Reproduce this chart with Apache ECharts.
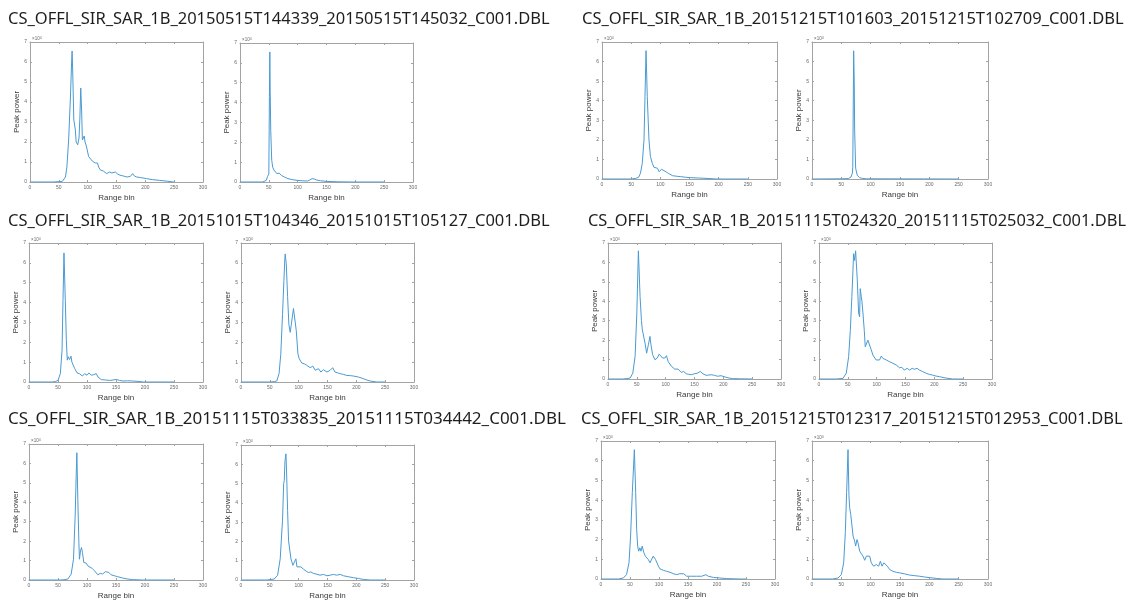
<!DOCTYPE html>
<html><head><meta charset="utf-8">
<script src="https://cdn.jsdelivr.net/npm/echarts@6/dist/echarts.min.js"></script>
<style>html,body{margin:0;padding:0;background:#fff}#c{width:1135px;height:601px}</style>
</head><body><div id="c"></div><script>
// ---- text ----
const fileTitles = [
  'CS_OFFL_SIR_SAR_1B_20150515T144339_20150515T145032_C001.DBL',
  'CS_OFFL_SIR_SAR_1B_20151215T101603_20151215T102709_C001.DBL',
  'CS_OFFL_SIR_SAR_1B_20151015T104346_20151015T105127_C001.DBL',
  'CS_OFFL_SIR_SAR_1B_20151115T024320_20151115T025032_C001.DBL',
  'CS_OFFL_SIR_SAR_1B_20151115T033835_20151115T034442_C001.DBL',
  'CS_OFFL_SIR_SAR_1B_20151215T012317_20151215T012953_C001.DBL'
];
const xAxisTitle = 'Range bin';
const yAxisTitle = 'Peak power';
const xTickValues = [0, 50, 100, 150, 200, 250, 300];
const yTickValues = [0, 1, 2, 3, 4, 5, 6, 7];   // in units of 10^4

// ---- data: [range bin, peak power (x10^4)] ----
const curveA1 = [[0,0],[40,0],[50,0.02],[56,0.03],[61.5,0.25],[64,0.76],[67,2.1],[70,4.15],[72,5.85],[73,6.55],[74,5.6],[76,3.1],[78.7,2.6],[80,2.0],[82.8,1.86],[85,2.2],[86.5,3.2],[88,4.7],[89.5,3.6],[90.8,2.1],[92,2.2],[94,2.3],[95.5,2.0],[97.7,1.8],[101.7,1.27],[105,1.2],[108,1.05],[110,1.0],[113,0.95],[115,0.85],[117,0.95],[119,0.75],[122,0.6],[127,0.55],[133,0.42],[138,0.5],[142,0.45],[148,0.5],[152,0.4],[156,0.34],[162,0.3],[168,0.25],[174,0.28],[178,0.42],[181,0.3],[185,0.25],[192,0.22],[202,0.17],[212,0.12],[225,0.08],[238,0.04],[248,0],[250,0]];
const curveA2 = [[0,0],[39,0],[45.5,0.08],[47.8,0.28],[49,0.2],[50,0.4],[51,4.3],[51.7,6.55],[52.4,4.5],[53.3,2.6],[55,1.1],[56.7,0.75],[59,0.6],[61,0.5],[64,0.42],[66,0.48],[67.8,0.45],[70,0.4],[72,0.33],[77,0.25],[83,0.17],[90,0.12],[100,0.08],[108,0.06],[117,0.05],[121,0.1],[125,0.17],[129,0.15],[133,0.1],[140,0.06],[150,0.03],[170,0.01],[194,0],[250,0]];
const curveB1 = [[0,0],[50,0],[58,0.03],[63,0.1],[66,0.3],[69,0.8],[72,2.0],[73.7,4.2],[75.5,6.56],[77.6,4.2],[80.5,2.0],[83,1.15],[86.3,0.8],[89,0.6],[92,0.5],[95,0.55],[98,0.37],[100,0.42],[102,0.5],[105,0.46],[109.6,0.37],[113.6,0.29],[117,0.22],[121,0.17],[128,0.14],[135,0.12],[143,0.09],[151,0.07],[165,0.05],[180,0.03],[197,0],[250,0]];
const curveB2 = [[0,0],[50,0.01],[62,0.02],[66.5,0.1],[68.8,0.3],[69.5,0.6],[70,2.5],[71,6.55],[72,5.0],[72.7,2.5],[74.4,0.55],[75.6,0.63],[77,0.2],[81,0.07],[86,0.03],[93,0.01],[250,0]];
const curveC1 = [[0,0],[40,0],[46,0.03],[50,0.08],[54,0.42],[57,1.6],[58.6,4.1],[60.3,6.5],[62.6,4.1],[64.4,2.1],[66,1.1],[67.8,1.27],[70,1.13],[72.4,1.3],[74,1.0],[76,1.05],[78.7,0.68],[82.8,0.46],[87,0.42],[92,0.3],[96,0.42],[100,0.34],[103.4,0.46],[107.5,0.34],[111.5,0.37],[116,0.42],[119,0.25],[124.7,0.12],[132,0.1],[139,0.08],[145,0.1],[150.6,0.13],[156,0.08],[162,0.05],[170,0.06],[179,0.05],[188,0.03],[197,0],[250,0]];
const curveC2 = [[0,0],[50,0],[58,0.02],[62,0.05],[66,0.42],[69,1.4],[72,3.4],[74.4,5.1],[76,6.2],[76.7,6.45],[77.5,6.2],[78.5,5.95],[80.8,4.3],[83,2.9],[85.4,2.5],[87,2.85],[88.9,2.75],[91,3.7],[93.5,3.7],[95.8,2.6],[98.7,1.42],[101,1.17],[103.8,1.25],[105.5,0.95],[107.3,1.0],[109.6,0.92],[114,0.84],[117,0.78],[120,0.72],[124.6,0.8],[128.7,0.59],[134.5,0.67],[138.5,0.5],[143,0.62],[149,0.5],[154.6,0.59],[159,0.72],[163,0.5],[167,0.47],[172,0.42],[178,0.38],[183.5,0.33],[190,0.32],[195,0.3],[203.7,0.25],[212,0.17],[218,0.1],[224,0.05],[235,0],[250,0]];
const curveD1 = [[0,0],[25,0],[33,0.02],[38.4,0.05],[43,0.3],[47,1.16],[50,3.4],[52.7,6.6],[55.6,4.24],[58,3.0],[59.6,2.53],[61.3,2.44],[64.2,1.85],[67,1.33],[70,1.76],[72.8,2.19],[74.5,1.76],[77.4,1.25],[81.4,0.99],[85.4,1.08],[88.8,1.28],[91.7,1.25],[94.6,1.08],[98.6,1.08],[101.4,1.2],[104.3,0.9],[110,0.65],[115.8,0.51],[118.6,0.44],[121.5,0.51],[127,0.34],[131,0.39],[135.8,0.27],[140,0.24],[144.4,0.22],[150,0.27],[155.9,0.31],[160,0.39],[164.5,0.27],[170,0.19],[174,0.2],[178.8,0.22],[184.5,0.19],[190,0.14],[196,0.17],[204.6,0.09],[210,0.05],[216,0.02],[230,0.01],[250,0]];
const curveD2 = [[0,0],[30,0],[41.5,0.03],[47.3,0.3],[51.4,1.15],[54.3,2.5],[57,4.24],[58.9,5.6],[60,6.45],[61.7,6.1],[63.5,6.6],[66.4,5.1],[68.7,3.4],[70.4,3.2],[71.5,4.65],[73.3,4.24],[74.4,4.0],[76.2,3.4],[78.5,2.5],[80.2,1.66],[82,1.58],[84.8,2.0],[87.7,2.0],[90.6,1.5],[93.5,1.23],[99,0.98],[102,0.93],[105,0.98],[108,1.18],[110.8,1.06],[116.6,0.98],[122.3,0.89],[128,0.81],[134,0.72],[139.6,0.58],[143.7,0.6],[148,0.46],[153,0.55],[157,0.46],[161.6,0.55],[165.6,0.5],[170,0.55],[174,0.46],[180,0.38],[186,0.29],[191.6,0.24],[197,0.2],[203,0.15],[209,0.12],[215,0.08],[220,0.05],[232,0],[250,0]];
const curveE1 = [[0,0],[55,0],[62,0.02],[67,0.05],[72.7,0.3],[76.7,1.07],[79.6,3.28],[81.3,5.3],[82.5,6.55],[84.2,4.13],[86,1.92],[87,1.07],[88.8,1.5],[90.5,1.67],[92.2,1.41],[94.5,0.9],[96.2,0.82],[98.5,0.87],[101.4,0.73],[104.2,0.65],[108.8,0.6],[112.8,0.48],[115.7,0.48],[118.6,0.27],[123,0.34],[127,0.31],[131.7,0.43],[134.6,0.51],[137.5,0.39],[141.5,0.27],[147,0.22],[153,0.17],[161.5,0.1],[170,0.05],[178.7,0.02],[196,0],[250,0]];
const curveE2 = [[0,0],[45,0],[57.7,0.05],[63.5,0.25],[68,1.1],[72,3.1],[74,5.0],[75,5.15],[76.2,6.15],[77.9,6.54],[79,5.65],[80.8,3.6],[82.5,2.03],[84.2,1.94],[86.6,1.1],[90,0.76],[93,0.68],[95.2,1.1],[97,0.68],[99.8,0.59],[103.9,0.68],[108.5,0.56],[113,0.46],[117,0.39],[121,0.42],[125.8,0.34],[131.6,0.3],[137,0.25],[143,0.29],[149,0.22],[154.6,0.25],[160.4,0.29],[166,0.25],[172,0.29],[177.7,0.22],[186,0.17],[195,0.12],[203.7,0.08],[212,0.03],[224,0],[250,0]];
const curveF1 = [[0,0],[30,0],[38.5,0.05],[44,0.22],[48.3,0.82],[51,2.18],[54,4.39],[57.5,6.56],[59.8,4.39],[61.5,2.52],[63.2,1.67],[65,1.41],[67,1.58],[69,1.41],[71,1.67],[72.4,1.75],[74,1.33],[76.4,1.16],[78.7,1.16],[81.6,0.99],[84.5,0.82],[87.4,0.9],[90,1.16],[92,1.19],[94,0.99],[96,1.02],[99,0.65],[101.7,0.51],[107.5,0.44],[113,0.39],[119,0.34],[124.7,0.27],[130.5,0.22],[136,0.27],[139,0.34],[143,0.26],[147.7,0.14],[156,0.14],[165,0.14],[173.6,0.14],[181,0.22],[185,0.14],[193.7,0.08],[205,0.05],[216.7,0.02],[240,0],[250,0]];
const curveF2 = [[0,0],[35,0],[44.3,0.05],[50,0.22],[54,0.82],[56.8,2.35],[59,4.39],[61.4,6.56],[63,4.22],[64.2,3.62],[66,3.28],[68.2,2.69],[70,2.18],[72.7,1.92],[74.4,1.67],[76.7,2.0],[78.4,1.84],[81.3,1.41],[84,1.5],[87,1.16],[89.8,0.95],[92.6,1.16],[95.5,1.19],[98.3,1.16],[101,0.82],[105,0.65],[109.7,0.73],[113.6,0.65],[116.5,0.9],[119.3,0.65],[122.7,0.82],[125.6,0.9],[128.4,0.65],[132.4,0.48],[138,0.39],[143.8,0.34],[149.4,0.31],[158,0.26],[166.5,0.2],[175,0.17],[183.5,0.14],[192,0.1],[200.6,0.07],[212,0.03],[223,0],[250,0]];
const curves = [curveA1, curveA2, curveB1, curveB2, curveC1, curveC2, curveD1, curveD2, curveE1, curveE2, curveF1, curveF2];

// ---- layout (pixels) ----
const titleSpots = [[8,11,16.5],[582,11,16.5],[8,213,16.5],[588,213,16.4],[8,411,17],[581,411,16.5]];
const gridSpots = [
  [30,42,173,140],[240,43,173,139],
  [602,42,175,137],[812,42,176,137],
  [29,243,174,139],[241,243,173,139],
  [608,243,173,136],[819,243,173,136],
  [29,444,174,137],[241,445,173,137],
  [601,441,174,138],[812,441,176,138]
];

const lineColor = '#4a9ad2';
const boxColor = '#a3a3a3';
const tickText = '#6a6a6a';

const option = {
  animation: false,
  backgroundColor: '#ffffff',
  title: fileTitles.map((t, i) => ({
    text: t, left: titleSpots[i][0], top: titleSpots[i][1], padding: 0,
    textStyle: {fontFamily: 'Noto Sans', fontSize: titleSpots[i][2], fontWeight: 'normal', color: '#1e1e1e'}
  })),
  grid: [], xAxis: [], yAxis: [], series: [], graphic: []
};

gridSpots.forEach((g, i) => {
  option.grid.push({left: g[0], top: g[1], width: g[2], height: g[3], containLabel: false});
  const common = {gridIndex: i, type: 'value', min: 0, max: 300, interval: 50,
    axisLine: {show: true, onZero: false, lineStyle: {color: boxColor, width: 1}},
    axisTick: {show: true, inside: true, length: 2, lineStyle: {color: boxColor}},
    splitLine: {show: false}};
  option.xAxis.push(Object.assign({}, common, {position: 'bottom',
    name: xAxisTitle, nameLocation: 'middle', nameGap: 12,
    nameTextStyle: {fontFamily: 'Liberation Sans', fontSize: 8, color: '#3a3a3a'},
    axisLabel: {show: true, fontSize: 5, color: tickText, margin: 3, fontFamily: 'Liberation Sans',
      customValues: xTickValues}}));
  option.xAxis.push(Object.assign({}, common, {position: 'top', axisLabel: {show: false}}));
  const ycommon = {gridIndex: i, type: 'value', min: 0, max: 7, interval: 1,
    axisLine: {show: true, onZero: false, lineStyle: {color: boxColor, width: 1}},
    axisTick: {show: true, inside: true, length: 2, lineStyle: {color: boxColor}},
    splitLine: {show: false}};
  option.yAxis.push(Object.assign({}, ycommon, {position: 'left',
    name: yAxisTitle, nameLocation: 'middle', nameGap: 8,
    nameTextStyle: {fontFamily: 'Liberation Sans', fontSize: 8, color: '#3a3a3a'},
    axisLabel: {show: true, fontSize: 5, color: tickText, margin: 3, fontFamily: 'Liberation Sans'}}));
  option.yAxis.push(Object.assign({}, ycommon, {position: 'right', axisLabel: {show: false}}));
  option.series.push({type: 'line', xAxisIndex: 2*i, yAxisIndex: 2*i, data: curves[i],
    showSymbol: false, smooth: false, lineStyle: {color: lineColor, width: 1}, z: 5});
  option.graphic.push({type: 'text', left: g[0] + 2, top: g[1] - 6,
    style: {text: '×10{s|4}', fontSize: 4.5, fill: tickText, fontFamily: 'Liberation Sans',
      rich: {s: {fontSize: 3.5, verticalAlign: 'top', fill: tickText}}}});
});

const chart = echarts.init(document.getElementById('c'), null, {renderer: 'canvas'});
chart.setOption(option);
</script></body></html>
